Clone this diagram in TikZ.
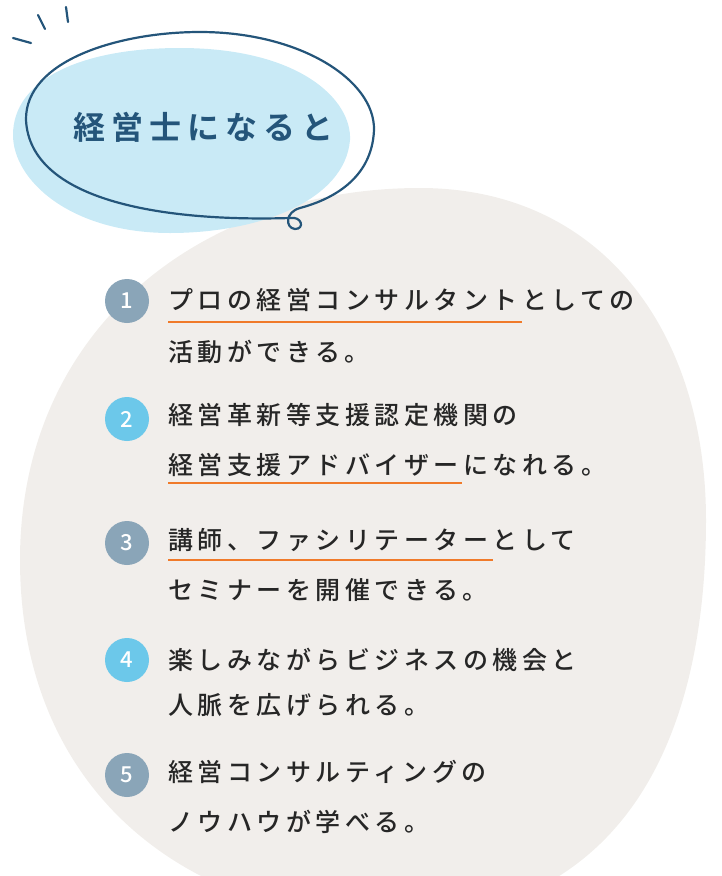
\documentclass[tikz,border=0pt]{standalone}
\usepackage{fontspec}
\newfontfamily\jp[LetterSpace=18]{Noto Sans CJK JP Medium}
\newfontfamily\jpb[LetterSpace=19]{Noto Sans CJK JP Bold}
\newfontfamily\num{Noto Sans CJK JP Medium}
\definecolor{bgray}{HTML}{F1EEEB}
\definecolor{lblue}{HTML}{C9EAF6}
\definecolor{navy}{HTML}{24557A}
\definecolor{b1}{HTML}{8AA5B8}
\definecolor{b2}{HTML}{6CC8EA}
\definecolor{orng}{HTML}{F07A2A}
\begin{document}
\begin{tikzpicture}[x=1pt,y=-1pt,
  badge/.style={circle,minimum size=44pt,inner sep=0pt,text=white,font=\num\fontsize{22}{22}\selectfont},
  item/.style={anchor=west,inner sep=0pt,font=\jp\fontsize{25}{25}\selectfont,text=black!85},
  uline/.style={orng,line width=2pt}]
\useasboundingbox (0,0) rectangle (722,876);
\begin{scope}
\clip (0,0) rectangle (722,876);
\fill[bgray] (420,188) .. controls (600,188) and (706,330) .. (706,520)
  .. controls (706,700) and (650,900) .. (420,920)
  .. controls (200,930) and (20,800) .. (20,560)
  .. controls (20,330) and (200,188) .. (420,188) -- cycle;
\end{scope}
\fill[lblue] (180,48) .. controls (300,48) and (352,100) .. (350,140)
  .. controls (345,200) and (260,233) .. (170,233)
  .. controls (70,233) and (13,180) .. (13,135)
  .. controls (13,80) and (80,48) .. (180,48) -- cycle;
\draw[navy,line width=2.2pt] (290,218) .. controls (160,222) and (30,200) .. (26,120)
  .. controls (25,60) and (120,32) .. (200,32)
  .. controls (300,32) and (375,80) .. (374,130)
  .. controls (372,180) and (330,200) .. (300,208)
  .. controls (285,212) and (285,228) .. (295,229)
  .. controls (305,229) and (302,216) .. (290,218);
\draw[navy,line width=2.2pt,line cap=round] (13,38) -- (31,43) (38,15) -- (45,29) (66,7) -- (68,22);
\node[anchor=west,inner sep=0pt,text=navy,font=\jpb\fontsize{32}{32}\selectfont] (title) at (73,127) {経営士になると};
\node[badge,fill=b1] (n1) at (127,301) {1};
\node[badge,fill=b2] (n2) at (127,419) {2};
\node[badge,fill=b1] (n3) at (127,543) {3};
\node[badge,fill=b2] (n4) at (127,660) {4};
\node[badge,fill=b1] (n5) at (127,775) {5};
\node[item] (t1a) at (168,300) {プロの経営コンサルタントとしての};
\node[item] (t1b) at (168,352) {活動ができる。};
\node[item] (t2a) at (168,415) {経営革新等支援認定機関の};
\node[item] (t2b) at (168,465) {経営支援アドバイザーになれる。};
\node[item] (t3a) at (168,540) {講師、ファシリテーターとして};
\node[item] (t3b) at (168,590) {セミナーを開催できる。};
\node[item] (t4a) at (168,660) {楽しみながらビジネスの機会と};
\node[item] (t4b) at (168,705) {人脈を広げられる。};
\node[item] (t5a) at (168,772) {経営コンサルティングの};
\node[item] (t5b) at (168,822) {ノウハウが学べる。};
\draw[uline] (168,322) -- (522,322);
\draw[uline] (168,483) -- (462,483);
\draw[uline] (168,560) -- (493,560);
\end{tikzpicture}
\end{document}
